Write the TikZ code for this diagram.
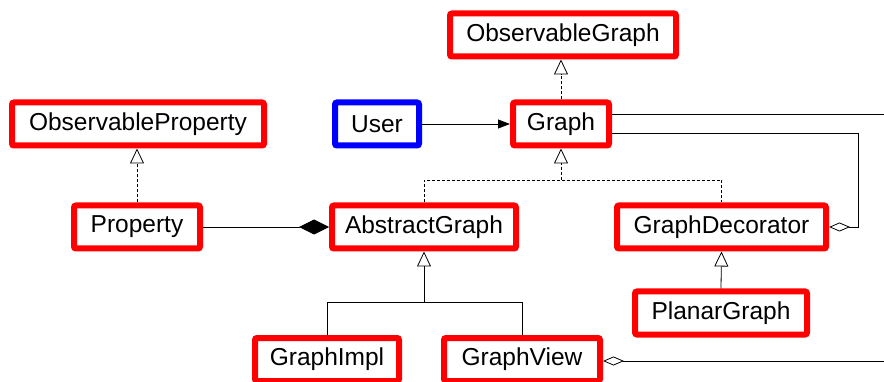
\documentclass[tikz,border=0pt]{standalone}
\usepackage{fontspec}
\setmainfont{Liberation Sans}
\usetikzlibrary{arrows.meta}

\begin{document}
\begin{tikzpicture}[x=1pt,y=-1pt,
  cls/.style={draw=red, line width=6pt, rounded corners=2pt, minimum height=43pt,
    inner sep=0pt, font=\fontsize{24.5}{28}\selectfont},
  usr/.style={cls, draw=blue},
  link/.style={line width=0.8pt},
  realize/.style={link, densely dashed, -{Triangle[open,length=15pt,width=14pt]}},
  inherit/.style={link, -{Triangle[open,length=15pt,width=14pt]}},
  aggr/.style={link, {Diamond[open,length=21pt,width=9pt]}-},
  comp/.style={link, -{Diamond[length=30pt,width=15pt]}}]
\useasboundingbox (0,0) rectangle (884,382);

\node[cls, minimum width=226pt] (obsgraph) at (563,35) {ObservableGraph};
\node[cls, minimum width=252pt] (obsprop) at (138,124) {ObservableProperty};
\node[usr, minimum width=84pt] (user) at (377,124) {User};
\node[cls, minimum width=96pt] (graph) at (561,124) {Graph};

\node[cls, minimum width=126pt] (prop) at (137,227) {Property};
\node[cls, minimum width=184pt] (absgraph) at (424,227) {AbstractGraph};
\node[cls, minimum width=209pt] (deco) at (721.5,227) {GraphDecorator};
\node[cls, minimum width=172pt] (planar) at (721,313) {PlanarGraph};

\node[cls, minimum width=144pt] (impl) at (327,359.5) {GraphImpl};
\node[cls, minimum width=156pt] (view) at (522,359.5) {GraphView};

% free ends on the right edge
\coordinate (rtop) at (884,114);
\coordinate (rbot) at (884,361);
\coordinate (aggrturn) at (858,133);
\path (graph.south) ++(0,31.5) coordinate (dashbar);
\path (absgraph.south) ++(0,51) coordinate (inhbar);

\draw[realize] (graph.north) -- (graph.north |- obsgraph.south);
\draw[realize] (prop.north) -- (prop.north |- obsprop.south);

\draw[realize] (dashbar) -- (graph.south);
\draw[link, densely dashed] (absgraph.north) |- (dashbar) -| (deco.north);

\draw[inherit] (inhbar) -- (absgraph.south);
\draw[link] (impl.north) |- (inhbar) -| (view.north);
\draw[inherit] (planar.north) -- (deco.south);

\draw[comp] (prop.east) -- (absgraph.west);
\draw[link, -{Triangle[length=12pt,width=9pt]}] (user.east) -- (graph.west);

\draw[link] (graph.east |- rtop) -- (rtop);
\draw[aggr] (deco.east) -| (aggrturn) -- (graph.east |- aggrturn);
\draw[aggr] (view.east |- rbot) -- (rbot);
\end{tikzpicture}
\end{document}
